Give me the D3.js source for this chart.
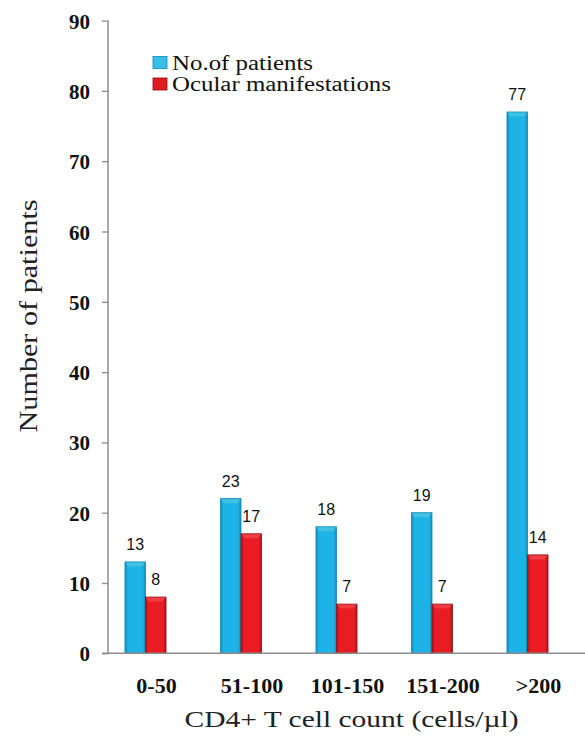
<!DOCTYPE html>
<html>
<head>
<meta charset="utf-8">
<script src="https://cdn.jsdelivr.net/npm/d3@7"></script>
<style>
  html, body { margin: 0; padding: 0; background: #fff; }
  svg { display: block; }
  .serif { font-family: "Liberation Serif", "Times New Roman", "DejaVu Serif", serif; }
  .sans { font-family: "Liberation Sans", Arial, sans-serif; }
</style>
</head>
<body>
<script>
const categories = ["0-50", "51-100", "101-150", "151-200", ">200"];
const seriesNames = ["No.of patients", "Ocular manifestations"];
const patients = [13, 22, 18, 20, 77];
const ocular = [8, 17, 7, 7, 14];
const patientLabels = ["13", "23", "18", "19", "77"];
const ocularLabels = ["8", "17", "7", "7", "14"];
const yTicks = [0, 10, 20, 30, 40, 50, 60, 70, 80, 90];

const W = 585, H = 736;
const svg = d3.select("body").append("svg").attr("width", W).attr("height", H);

const defs = svg.append("defs");
function grad(id, edge, mid) {
  const g = defs.append("linearGradient").attr("id", id).attr("x1", "0%").attr("x2", "100%");
  g.append("stop").attr("offset", "0%").attr("stop-color", edge);
  g.append("stop").attr("offset", "14%").attr("stop-color", mid);
  g.append("stop").attr("offset", "86%").attr("stop-color", mid);
  g.append("stop").attr("offset", "100%").attr("stop-color", edge);
}
grad("gBlue", "#1289b8", "#1db3e6");
grad("gRed", "#a5141a", "#e81c22");

const colors = ["url(#gBlue)", "url(#gRed)"];
const strokes = ["#1487b4", "#8f1116"];
const caps = ["#4cc6e2", "#f0474c"];
const legendColors = ["#35bfe9", "#e01b22"];

const y = d3.scaleLinear().domain([0, 90]).range([653.3, 20.6]);
const x0 = d3.scaleBand().domain(categories).range([97.75, 575.25]).paddingInner(0.57).paddingOuter(0.285);
const x1 = d3.scaleBand().domain([0, 1]).range([0, x0.bandwidth()]);

const data = categories.map((c, i) => ({
  cat: c,
  vals: [
    { s: 0, v: patients[i], label: patientLabels[i] },
    { s: 1, v: ocular[i], label: ocularLabels[i] }
  ]
}));

// Y axis
const yAxis = d3.axisLeft(y).tickValues(yTicks).tickSize(6).tickPadding(12);
const gy = svg.append("g").attr("transform", "translate(108,0)").call(yAxis);
gy.attr("font-family", null).attr("font-size", null);
gy.select(".domain").attr("stroke", "#8c8c8c").attr("stroke-width", 1.5).attr("d", `M0,${y(90)}V${y(0)}`);
gy.selectAll(".tick line").attr("stroke", "#8c8c8c").attr("stroke-width", 1.3);
gy.selectAll(".tick text")
  .attr("class", "serif")
  .style("font-weight", "bold").style("font-size", "21px").attr("fill", "#111")
  .attr("dy", "0.36em");

// Bars
const groups = svg.append("g").selectAll("g").data(data).join("g")
  .attr("transform", d => `translate(${x0(d.cat)},0)`);

groups.selectAll("rect.bar").data(d => d.vals).join("rect")
  .attr("class", "bar")
  .attr("x", d => x1(d.s))
  .attr("y", d => y(d.v))
  .attr("width", x1.bandwidth())
  .attr("height", d => y(0) - y(d.v))
  .attr("fill", d => colors[d.s])
  .attr("stroke", d => strokes[d.s])
  .attr("stroke-width", 0.8);

groups.selectAll("path.cap").data(d => d.vals).join("path")
  .attr("class", "cap")
  .attr("d", d => {
    const xl = x1(d.s) + 0.5, xr = x1(d.s) + x1.bandwidth() - 0.5, t = y(d.v) + 0.5;
    return `M${xl},${t}H${xr}L${xr - 3},${t + 4}H${xl + 3}Z`;
  })
  .attr("fill", d => caps[d.s]).attr("opacity", 0.8);

groups.selectAll("text.val").data(d => d.vals).join("text")
  .attr("class", "val sans")
  .attr("x", d => x1(d.s) + x1.bandwidth() / 2)
  .attr("y", d => y(d.v) - 12)
  .attr("text-anchor", "middle")
  .style("font-size", "16px").attr("fill", "#111")
  .text(d => d.label);

// X baseline
svg.append("line").attr("x1", 102).attr("x2", 585).attr("y1", y(0)).attr("y2", y(0))
  .attr("stroke", "#8c8c8c").attr("stroke-width", 1.5);

// X category labels
const xAxis = d3.axisBottom(x0).tickSize(0).tickPadding(0);
const gx = svg.append("g").attr("transform", `translate(11,693)`).call(xAxis);
gx.attr("font-family", null).attr("font-size", null);
gx.select(".domain").remove();
gx.selectAll(".tick text")
  .attr("class", "serif")
  .style("font-weight", "bold").style("font-size", "22px").attr("fill", "#111")
  .attr("dy", 0).attr("y", 0);

// Axis titles
svg.append("text")
  .attr("class", "serif")
  .attr("x", 351.5).attr("y", 727)
  .attr("text-anchor", "middle")
  .style("font-size", "24px").attr("fill", "#222")
  .attr("textLength", 334).attr("lengthAdjust", "spacingAndGlyphs")
  .text("CD4+ T cell count (cells/µl)");

svg.append("text")
  .attr("class", "serif")
  .attr("transform", "translate(37,316) rotate(-90)")
  .attr("text-anchor", "middle")
  .style("font-size", "26px").attr("fill", "#222")
  .attr("textLength", 233).attr("lengthAdjust", "spacingAndGlyphs")
  .text("Number of  patients");

// Legend
const legendWidths = [141, 219];
const leg = svg.append("g");
seriesNames.forEach((name, i) => {
  const by = 69.5 + i * 21.5;
  leg.append("rect").attr("x", 153).attr("y", by - 13).attr("width", 14).attr("height", 12)
    .attr("fill", legendColors[i]).attr("stroke", strokes[i]).attr("stroke-width", 0.8);
  leg.append("text").attr("class", "serif").attr("x", 172).attr("y", by)
    .style("font-size", "20px").attr("fill", "#111")
    .attr("textLength", legendWidths[i]).attr("lengthAdjust", "spacingAndGlyphs")
    .text(name);
});
</script>
</body>
</html>
